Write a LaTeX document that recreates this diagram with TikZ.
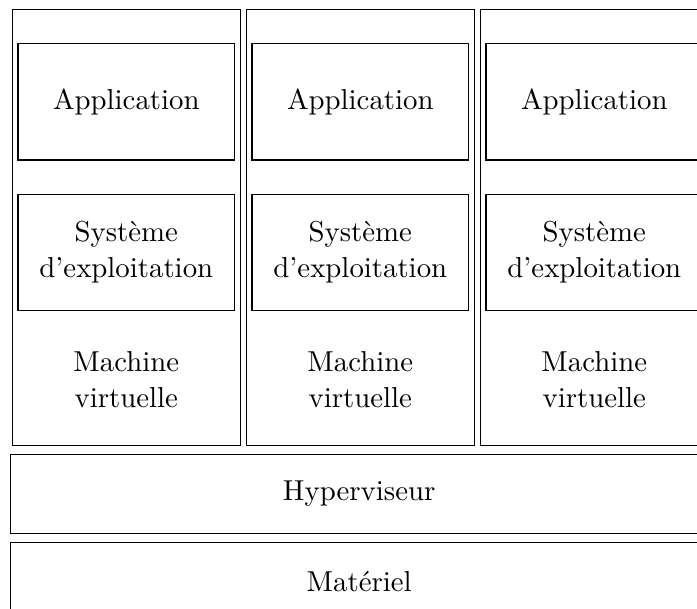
\documentclass[tikz,border=0pt]{standalone}
\begin{document}
\begin{tikzpicture}[x=0.38pt, y=-0.38pt,
    font=\fontsize{10.95pt}{13.6pt}\selectfont,
    box/.style={draw, align=center, inner sep=0pt, outer sep=0pt},
    vmbox/.style={box, minimum width=86.6pt, minimum height=165.8pt},
    inbox/.style={box, minimum width=82.3pt, minimum height=44.3pt},
    layer/.style={box, minimum width=264.9pt, minimum height=30pt}]
    \clip (0, 0) rectangle (697, 608);
    \foreach \i/\x in {1/126.3, 2/360.3, 3/594.3} {
        \node [vmbox] (vm\i) at (\x, 227.6) {};
        \node [inbox] (app\i) at (\x, 101.7) {Application};
        \node [inbox] (os\i) at (\x, 252.5) {Système\\d’exploitation};
        \node [align=center] (lbl\i) at (\x, 380) {Machine\\virtuelle};
    }
    \node [layer] (hyp) at (359.2, 493.8) {Hyperviseur};
    \node [layer] (mat) at (359.2, 581.5) {Matériel};
\end{tikzpicture}
\end{document}
